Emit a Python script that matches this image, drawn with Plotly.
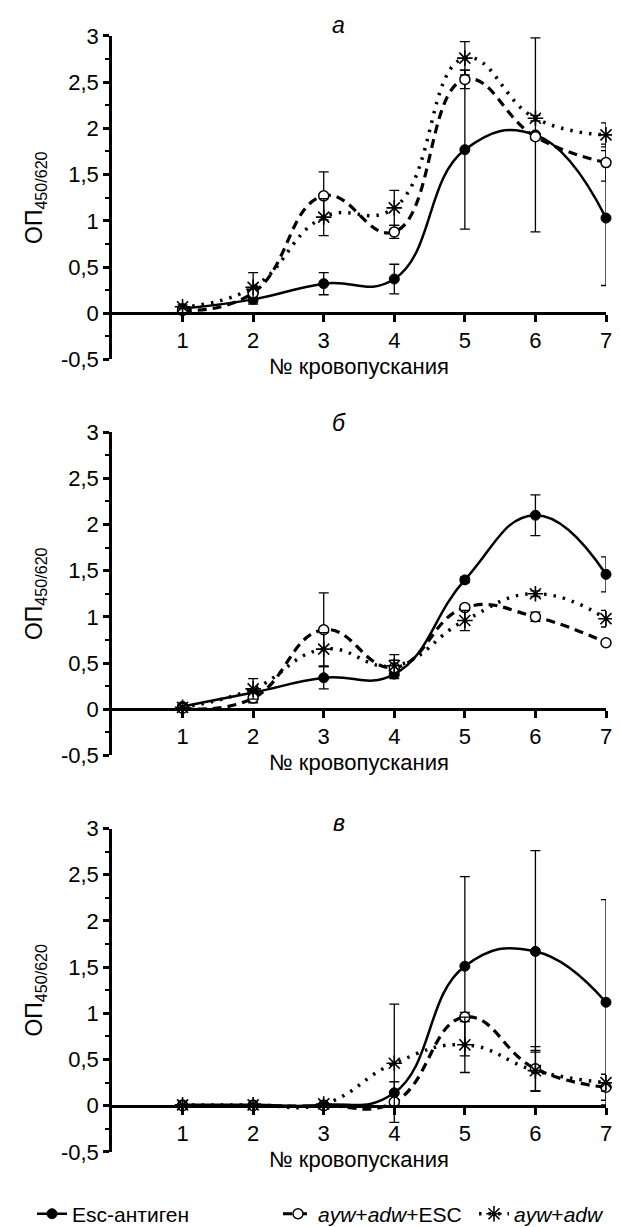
import plotly.graph_objects as go

# ---------------- data ----------------
bleed_no = [1, 2, 3, 4, 5, 6, 7]

series_names = ["Esc-антиген", "<i>ayw</i>+<i>adw</i>+ESC", "<i>ayw</i>+<i>adw</i>"]

# panel а
a_esc = [0.05, 0.15, 0.32, 0.37, 1.77, 1.93, 1.03]
a_esc_err = [0.02, 0.05, 0.12, 0.16, 0.86, 1.05, 0.73]
a_mix_esc = [0.03, 0.22, 1.27, 0.88, 2.53, 1.91, 1.63]
a_mix_esc_err = [0.02, 0.06, 0.26, 0.07, 0.10, 0.03, 0.20]
a_mix = [0.07, 0.28, 1.04, 1.14, 2.76, 2.11, 1.93]
a_mix_err = [0.02, 0.16, 0.20, 0.19, 0.18, 0.03, 0.13]

# panel б
b_esc = [0.03, 0.18, 0.34, 0.38, 1.40, 2.10, 1.46]
b_esc_err = [0.02, 0.03, 0.12, 0.05, 0.03, 0.22, 0.19]
b_mix_esc = [0.01, 0.12, 0.86, 0.45, 1.10, 1.00, 0.72]
b_mix_esc_err = [0.02, 0.05, 0.40, 0.08, 0.03, 0.05, 0.02]
b_mix = [0.02, 0.22, 0.65, 0.47, 0.96, 1.25, 0.98]
b_mix_err = [0.02, 0.11, 0.18, 0.12, 0.11, 0.03, 0.09]

# panel в
c_esc = [0.01, 0.01, 0.01, 0.14, 1.51, 1.67, 1.12]
c_esc_err = [0.01, 0.01, 0.01, 0.12, 0.97, 1.09, 1.11]
c_mix_esc = [0.0, 0.0, 0.0, 0.04, 0.96, 0.40, 0.20]
c_mix_esc_err = [0.0, 0.0, 0.0, 0.02, 0.05, 0.24, 0.14]
c_mix = [0.01, 0.01, 0.02, 0.46, 0.66, 0.38, 0.25]
c_mix_err = [0.01, 0.01, 0.01, 0.64, 0.30, 0.22, 0.09]

panel_titles = ["а", "б", "в"]
x_title = "№ кровопускания"
y_title = "ОП<sub>450/620</sub>"
y_tickvals = [-0.5, 0, 0.5, 1, 1.5, 2, 2.5, 3]
y_ticktext = ["-0,5", "0", "0,5", "1", "1,5", "2", "2,5", "3"]

# ---------------- styling ----------------
FONT = "Liberation Sans, Arial, Helvetica, sans-serif"
W, H = 620, 1227
x_left_px, x_right_px = 104, 598
# (top of y=3, y=0, bottom y=-0.5) in pixels for each panel
panel_px = [(28.3, 308.8, 355.5), (429.0, 709.3, 756.0), (830.0, 1110.5, 1157.2)]
title_px = [17, 420, 824]

styles = [
    dict(line=dict(color="black", width=2.5, dash="solid", shape="spline", smoothing=1.3),
         marker=dict(symbol="circle", size=10, color="black", line=dict(color="black", width=1))),
    dict(line=dict(color="black", width=3.2, dash="9px,6px", shape="spline", smoothing=1.3),
         marker=dict(symbol="circle", size=10, color="white", line=dict(color="black", width=1.5))),
    dict(line=dict(color="black", width=3.5, dash="2.5px,7px", shape="spline", smoothing=1.3),
         marker=dict(symbol="asterisk-open", size=13, color="black", line=dict(color="black", width=1.6))),
]

panels = [
    [(a_esc, a_esc_err), (a_mix_esc, a_mix_esc_err), (a_mix, a_mix_err)],
    [(b_esc, b_esc_err), (b_mix_esc, b_mix_esc_err), (b_mix, b_mix_err)],
    [(c_esc, c_esc_err), (c_mix_esc, c_mix_esc_err), (c_mix, c_mix_err)],
]

fig = go.Figure()
legend_ids = ["legend", "legend2", "legend3"]

for p, series in enumerate(panels):
    xa = "x" if p == 0 else f"x{p+1}"
    ya = "y" if p == 0 else f"y{p+1}"
    for s, (vals, errs) in enumerate(series):
        fig.add_trace(go.Scatter(
            x=bleed_no, y=vals,
            mode="lines+markers",
            name=series_names[s],
            line=styles[s]["line"],
            marker=styles[s]["marker"],
            error_y=dict(type="data", array=errs, visible=True, color="black",
                         thickness=1.3, width=5),
            xaxis=xa, yaxis=ya,
            cliponaxis=False,
            showlegend=(p == 2),
            legend=legend_ids[s],
        ))

layout = dict(
    width=W, height=H,
    margin=dict(l=0, r=0, t=0, b=0),
    paper_bgcolor="white", plot_bgcolor="white",
    template="none",
    font=dict(family=FONT, size=22, color="black"),
    annotations=[],
)

xdom = [x_left_px / W, x_right_px / W]
for p in range(3):
    top, zero, bot = panel_px[p]
    ydom = [1 - bot / H, 1 - top / H]
    xkey = "xaxis" if p == 0 else f"xaxis{p+1}"
    ykey = "yaxis" if p == 0 else f"yaxis{p+1}"
    xa = "x" if p == 0 else f"x{p+1}"
    layout[xkey] = dict(
        domain=xdom, range=[0, 7], anchor="free", position=1 - zero / H,
        tickvals=bleed_no, ticks="outside", ticklen=7, tickwidth=2.5, tickcolor="black",
        showline=True, linewidth=2.5, linecolor="black",
        showgrid=False, zeroline=False,
        tickfont=dict(size=22, family=FONT, color="black"),
        title=dict(text=x_title, standoff=6, font=dict(size=22, family=FONT, color="black")),
    )
    layout[ykey] = dict(
        domain=ydom, range=[-0.5, 3], anchor=xa,
        tickvals=y_tickvals, ticktext=y_ticktext,
        ticks="outside", ticklen=6, tickwidth=2.5, tickcolor="black",
        minor=dict(ticks="outside", ticklen=4, tickwidth=2, tickcolor="black", dtick=0.25, tick0=0, showgrid=False),
        showline=True, linewidth=2.5, linecolor="black",
        showgrid=False, zeroline=False,
        tickfont=dict(size=22, family=FONT, color="black"),
        title=dict(text=y_title, standoff=12, font=dict(size=23, family=FONT, color="black")),
    )
    layout["annotations"].append(dict(
        text=f"<i>{panel_titles[p]}</i>", x=331 / W, y=1 - title_px[p] / H,
        xref="paper", yref="paper", showarrow=False,
        font=dict(size=23, family=FONT, color="black"), xanchor="center", yanchor="middle",
    ))

leg_x = [24 / W, 270 / W, 466 / W]
for i, lid in enumerate(legend_ids):
    layout[lid] = dict(
        x=leg_x[i], y=1 - 1220 / H, xanchor="left", yanchor="middle",
        orientation="h", bgcolor="rgba(0,0,0,0)",
        font=dict(size=21, family=FONT, color="black"),
        itemwidth=30,
    )

fig.update_layout(**layout)
fig.write_html("out.html")
